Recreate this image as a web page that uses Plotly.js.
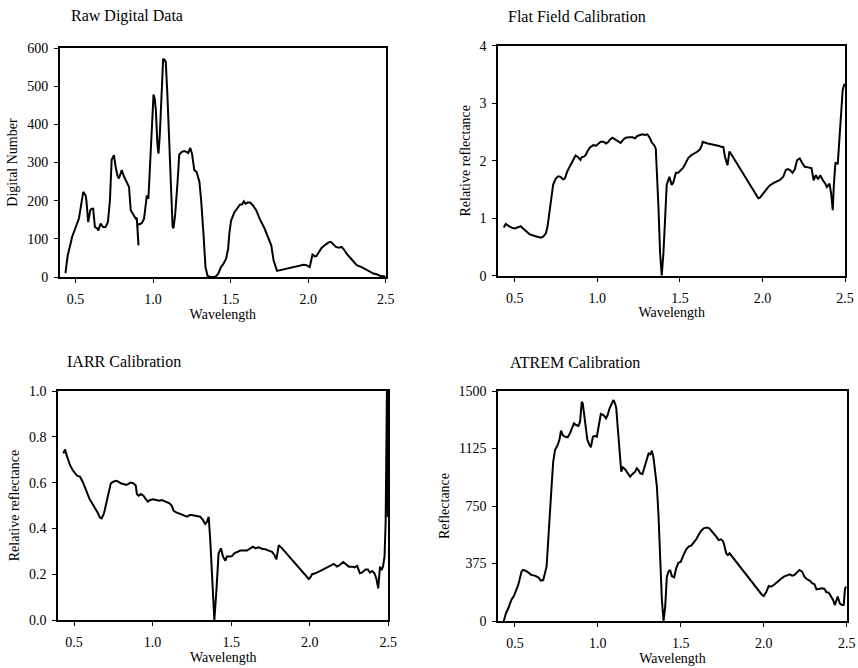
<!DOCTYPE html>
<html>
<head>
<meta charset="utf-8">
<script src="https://cdn.plot.ly/plotly-3.0.1.min.js"></script>
<style>html,body{margin:0;padding:0;background:#fff;}#chart{width:858px;height:668px;}</style>
</head>
<body>
<div id="chart"></div>
<script>
// ---- Raw Digital Data ----
const rawWl = [0.435,0.45,0.468,0.478,0.522,0.55,0.565,0.57,0.582,0.595,
  0.604,0.614,0.625,0.64,0.647,0.662,0.677,0.694,0.709,0.722,
  0.733,0.748,0.759,0.77,0.78,0.798,0.814,0.83,0.845,0.856,
  0.867,0.878,0.888,0.895,0.906,0.898,0.91,0.927,0.942,0.953,
  0.96,0.97,1.003,1.011,1.018,1.028,1.035,1.044,1.054,1.065,
  1.076,1.082,1.093,1.104,1.115,1.126,1.132,1.143,1.158,1.169,
  1.186,1.201,1.216,1.227,1.24,1.251,1.266,1.281,1.299,1.31,
  1.325,1.338,1.352,1.374,1.402,1.421,1.438,1.454,1.471,1.484,
  1.492,1.503,1.525,1.546,1.561,1.574,1.585,1.596,1.611,1.626,
  1.643,1.665,1.687,1.719,1.747,1.762,1.777,1.799,1.971,1.989,
  2.01,2.028,2.043,2.053,2.071,2.086,2.107,2.129,2.146,2.161,
  2.179,2.2,2.215,2.231,2.248,2.27,2.291,2.313,2.345,2.377,
  2.399,2.421,2.442,2.463,2.485,2.5];
const rawDN = [10,57,87,105,153,223,214,201,144,175,
  179,179,131,127,122,140,131,131,144,201,
  307,319,288,266,258,280,262,249,236,175,
  166,157,153,155,83,140,138,141,153,183,
  214,205,478,467,437,349,323,376,472,572,
  568,563,472,358,236,131,128,166,249,321,
  328,330,328,325,338,323,280,275,249,201,
  114,26,2,0,0,9,26,35,48,74,
  114,148,170,183,190,190,198,192,195,195,
  188,175,153,127,100,83,44,16,32,31,
  26,59,54,55,66,76,83,90,92,87,
  79,77,79,72,61,51,42,31,26,19,
  16,9,7,3.5,2,0];

// ---- Flat Field Calibration ----
const ffWl = [0.433,0.445,0.46,0.48,0.5,0.52,0.536,0.55,0.57,0.59,
  0.62,0.641,0.657,0.672,0.688,0.698,0.708,0.722,0.732,0.748,
  0.763,0.777,0.793,0.803,0.817,0.833,0.847,0.858,0.868,0.884,
  0.898,0.904,0.918,0.93,0.939,0.955,0.975,0.992,1.006,1.02,
  1.036,1.053,1.067,1.077,1.091,1.107,1.127,1.141,1.158,1.172,
  1.192,1.212,1.228,1.242,1.259,1.273,1.289,1.303,1.319,1.329,
  1.344,1.354,1.37,1.38,1.39,1.4,1.41,1.42,1.436,1.45,
  1.46,1.476,1.49,1.505,1.52,1.537,1.551,1.571,1.591,1.607,
  1.622,1.632,1.638,1.652,1.668,1.683,1.699,1.713,1.727,1.739,
  1.753,1.763,1.773,1.788,1.8,1.814,1.975,1.985,2.005,2.025,
  2.042,2.066,2.086,2.106,2.126,2.142,2.156,2.17,2.182,2.196,
  2.21,2.226,2.24,2.256,2.277,2.297,2.31,2.323,2.337,2.35,
  2.366,2.38,2.39,2.406,2.416,2.426,2.432,2.442,2.456,2.466,
  2.476,2.486,2.497];
const ffRef = [0.84,0.90,0.87,0.835,0.82,0.835,0.86,0.82,0.765,0.72,
  0.69,0.68,0.66,0.68,0.736,0.85,1.08,1.37,1.58,1.69,
  1.73,1.72,1.675,1.69,1.81,1.90,1.97,2.02,2.09,2.06,
  2.015,2.06,2.07,2.1,2.16,2.23,2.27,2.26,2.30,2.33,
  2.33,2.30,2.33,2.37,2.40,2.37,2.33,2.31,2.37,2.40,
  2.406,2.406,2.39,2.43,2.446,2.458,2.446,2.458,2.39,2.32,
  2.27,2.21,1.2,0.39,0.0,0.39,0.97,1.58,1.72,1.58,
  1.62,1.79,1.79,1.83,1.88,1.97,2.05,2.10,2.13,2.16,
  2.2,2.26,2.33,2.31,2.30,2.29,2.28,2.28,2.26,2.255,
  2.24,2.24,2.07,1.92,2.16,2.10,1.345,1.357,1.43,1.50,
  1.565,1.61,1.635,1.665,1.72,1.84,1.855,1.83,1.79,1.85,
  2.01,2.04,1.965,1.895,1.884,1.87,1.66,1.75,1.675,1.75,
  1.66,1.605,1.54,1.6,1.43,1.14,1.55,1.97,1.94,2.36,
  2.94,3.23,3.34];

// ---- IARR Calibration ----
const iarrWl = [0.432,0.443,0.453,0.474,0.491,0.506,0.521,0.538,0.555,0.576,
  0.597,0.619,0.638,0.65,0.665,0.676,0.691,0.704,0.719,0.734,
  0.75,0.767,0.782,0.797,0.815,0.832,0.846,0.861,0.878,0.893,
  0.9,0.91,0.925,0.942,0.957,0.97,0.985,1.002,1.023,1.045,
  1.059,1.074,1.091,1.108,1.123,1.134,1.151,1.176,1.197,1.219,
  1.24,1.261,1.282,1.303,1.32,1.335,1.346,1.357,1.367,1.378,
  1.393,1.405,1.42,1.435,1.448,1.463,1.473,1.49,1.505,1.52,
  1.537,1.558,1.58,1.601,1.622,1.639,1.654,1.675,1.696,1.717,
  1.739,1.76,1.775,1.788,1.803,1.824,1.994,2.004,2.015,2.036,
  2.068,2.1,2.132,2.153,2.174,2.191,2.213,2.227,2.249,2.27,
  2.285,2.302,2.319,2.334,2.355,2.37,2.383,2.398,2.412,2.425,
  2.436,2.447,2.457,2.466,2.476,2.483,2.49,2.494,2.497,2.5];
const iarrRef = [0.728,0.745,0.72,0.677,0.655,0.643,0.629,0.626,0.604,0.568,
  0.531,0.505,0.485,0.469,0.448,0.444,0.466,0.509,0.56,0.597,
  0.604,0.608,0.604,0.597,0.594,0.59,0.594,0.6,0.597,0.587,
  0.55,0.543,0.55,0.543,0.528,0.517,0.524,0.527,0.524,0.521,
  0.524,0.52,0.517,0.509,0.498,0.477,0.47,0.463,0.456,0.451,
  0.459,0.456,0.454,0.451,0.437,0.419,0.429,0.451,0.349,0.175,
  0.0,0.116,0.291,0.313,0.277,0.259,0.277,0.277,0.279,0.291,
  0.298,0.303,0.303,0.303,0.313,0.32,0.313,0.317,0.311,0.309,
  0.303,0.298,0.284,0.265,0.327,0.313,0.179,0.186,0.2,0.204,
  0.215,0.226,0.239,0.245,0.233,0.24,0.253,0.245,0.233,0.233,
  0.23,0.236,0.204,0.208,0.221,0.221,0.207,0.214,0.204,0.178,
  0.138,0.233,0.218,0.233,0.277,0.422,0.786,1.2,0.45,1.2];

// ---- ATREM Calibration ----
const atremWl = [0.433,0.446,0.46,0.47,0.48,0.494,0.506,0.52,0.53,0.54,
  0.55,0.564,0.58,0.6,0.62,0.641,0.657,0.671,0.681,0.691,
  0.701,0.711,0.721,0.731,0.742,0.758,0.768,0.778,0.788,0.802,
  0.818,0.832,0.842,0.856,0.869,0.883,0.893,0.903,0.909,0.917,
  0.925,0.937,0.95,0.958,0.97,0.984,0.994,1.004,1.018,1.034,
  1.049,1.059,1.071,1.085,1.095,1.105,1.111,1.121,1.131,1.141,
  1.151,1.165,1.181,1.195,1.209,1.225,1.235,1.245,1.255,1.269,
  1.279,1.292,1.306,1.316,1.326,1.336,1.346,1.356,1.366,1.376,
  1.386,1.396,1.406,1.416,1.426,1.436,1.446,1.46,1.472,1.486,
  1.5,1.516,1.533,1.547,1.563,1.577,1.593,1.607,1.622,1.638,
  1.658,1.672,1.684,1.698,1.714,1.728,1.742,1.754,1.762,1.774,
  1.784,1.794,1.809,1.99,2.0,2.016,2.03,2.044,2.06,2.081,
  2.101,2.121,2.141,2.157,2.171,2.185,2.201,2.215,2.231,2.245,
  2.261,2.277,2.292,2.306,2.318,2.336,2.352,2.366,2.378,2.392,
  2.406,2.418,2.428,2.438,2.446,2.458,2.472,2.482,2.49,2.499];
const atremRef = [0,50,83,115,141,163,191,235,278,322,
  333,328,317,300,296,285,263,267,311,354,
  528,746,876,1039,1115,1148,1180,1241,1213,1202,
  1198,1224,1257,1289,1278,1272,1300,1430,1420,1354,
  1257,1180,1148,1133,1202,1207,1202,1267,1350,1343,
  1322,1343,1387,1420,1441,1415,1387,1246,1115,974,
  1002,989,963,941,959,974,996,985,963,959,
  996,1050,1093,1087,1111,1061,974,876,680,376,
  137,0,93,289,322,333,293,285,343,380,
  387,430,467,485,491,511,533,561,587,604,
  609,604,589,576,550,528,533,522,496,441,
  430,441,420,170,163,191,228,224,235,257,
  272,289,300,304,296,300,317,333,322,289,
  272,263,246,239,207,209,213,209,187,185,
  159,137,104,141,159,115,104,104,213,224];

const xTickVals = [0.5, 1.0, 1.5, 2.0, 2.5];
const xTickText = ['0.5', '1.0', '1.5', '2.0', '2.5'];
const rawTicks = [0, 100, 200, 300, 400, 500, 600];
const ffTicks = [0, 1, 2, 3, 4];
const iarrTicks = [0, 0.2, 0.4, 0.6, 0.8, 1.0];
const iarrTickText = ['0.0', '0.2', '0.4', '0.6', '0.8', '1.0'];
const atremTicks = [0, 375, 750, 1125, 1500];

const panelTitles = ['Raw Digital Data', 'Flat Field Calibration', 'IARR Calibration', 'ATREM Calibration'];
const yTitles = ['Digital Number', 'Relative reflectance', 'Relative reflectance', 'Reflectance'];

const W = 858, H = 668;
const FONT = '"Liberation Serif", "Times New Roman", serif';

const lineStyle = {color: 'black', width: 2};
const traces = [
  {x: rawWl, y: rawDN, xaxis: 'x', yaxis: 'y'},
  {x: ffWl, y: ffRef, xaxis: 'x2', yaxis: 'y2'},
  {x: iarrWl, y: iarrRef, xaxis: 'x3', yaxis: 'y3'},
  {x: atremWl, y: atremRef, xaxis: 'x4', yaxis: 'y4'}
].map(t => Object.assign(t, {type: 'scatter', mode: 'lines', line: lineStyle, hoverinfo: 'x+y'}));

// plot-area boxes in pixels [left, right, top, bottom]
const boxes = [
  [60, 385.7, 48, 277],
  [498.3, 845, 45.7, 275.7],
  [58.3, 388.3, 391, 620],
  [498.3, 846.7, 391, 621]
];

function baseAxis() {
  return {
    showgrid: false, zeroline: false, showline: true, mirror: true,
    linecolor: 'black', linewidth: 2,
    ticks: 'outside', ticklen: 4, tickwidth: 1, tickcolor: 'black',
    tickfont: {family: FONT, size: 14, color: 'black'},
    fixedrange: true
  };
}

const layout = {
  width: W, height: H,
  margin: {l: 0, r: 0, t: 0, b: 0},
  paper_bgcolor: 'white', plot_bgcolor: 'white',
  showlegend: false,
  font: {family: FONT, color: 'black', size: 14},
  annotations: []
};

const yRanges = [[0, 600], [0, 4], [0, 1], [0, 1500]];
const yTickVals = [rawTicks, ffTicks, iarrTicks, atremTicks];
const yTickTexts = [rawTicks.map(String), ffTicks.map(String), iarrTickText, atremTicks.map(String)];
const titlePos = [[69, 16], [506, 17], [65, 361], [508, 362]];

boxes.forEach((b, i) => {
  const n = i === 0 ? '' : String(i + 1);
  const xa = baseAxis();
  Object.assign(xa, {
    domain: [b[0] / W, b[1] / W],
    anchor: 'y' + n,
    range: [0.4, 2.5],
    tickvals: xTickVals, ticktext: xTickText,
    ticklabelstandoff: 4,
    title: {text: 'Wavelength', font: {family: FONT, size: 14, color: 'black'}, standoff: 1}
  });
  const ya = baseAxis();
  Object.assign(ya, {
    domain: [1 - b[3] / H, 1 - b[2] / H],
    anchor: 'x' + n,
    range: yRanges[i],
    tickvals: yTickVals[i], ticktext: yTickTexts[i],
    ticklabelstandoff: 3,
    title: {text: yTitles[i], font: {family: FONT, size: 14, color: 'black'}, standoff: 6}
  });
  layout['xaxis' + n] = xa;
  layout['yaxis' + n] = ya;
  layout.annotations.push({
    text: panelTitles[i], xref: 'paper', yref: 'paper',
    x: titlePos[i][0] / W, y: 1 - titlePos[i][1] / H,
    xanchor: 'left', yanchor: 'middle', showarrow: false,
    font: {family: FONT, size: 16, color: 'black'}
  });
});

Plotly.newPlot('chart', traces, layout, {displayModeBar: false, staticPlot: true});
</script>
</body>
</html>
